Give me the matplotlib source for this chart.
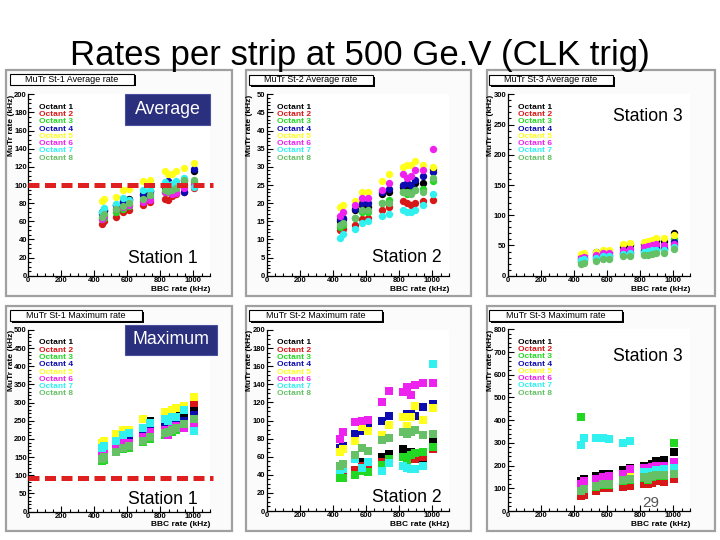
import matplotlib
matplotlib.use('Agg')
import matplotlib.pyplot as plt
from matplotlib.patches import Rectangle
from matplotlib.ticker import MultipleLocator

W, H = 720, 540

# ---------------- data ----------------
bbc_rate = [445, 458, 530, 575, 610, 695, 735, 825, 845, 870, 895, 945, 1005]
octant_labels = ['Octant 1', 'Octant 2', 'Octant 3', 'Octant 4',
                 'Octant 5', 'Octant 6', 'Octant 7', 'Octant 8']
octant_colors = ['#000000', '#d81818', '#22d822', '#0c0cb0',
                 '#ffff1a', '#ee22ee', '#30f0f0', '#66c066']

st1_avg = [
    [70, 72, 78, 82, 85, 90, 93, 98, 98, 97, 100, 105, 115],
    [57, 60, 65, 70, 72, 78, 81, 85, 83, 88, 90, 92, 97],
    [62, 64, 70, 74, 77, 82, 86, 92, 92, 93, 96, 100, 103],
    [68, 71, 78, 81, 84, 89, 93, 100, 104, 100, 98, 92, 118],
    [82, 85, 87, 94, 96, 104, 106, 115, 112, 112, 115, 119, 124],
    [63, 66, 73, 76, 78, 81, 84, 92, 93, 90, 91, 97, 100],
    [70, 75, 79, 86, 84, 94, 95, 103, 100, 101, 104, 108, 98],
    [65, 68, 73, 77, 80, 85, 89, 95, 93, 94, 97, 105, 106],
]
st2_avg = [
    [15, 15.5, 18, 19.5, 19, 22.5, 23, 24.5, 24, 24, 25.5, 25.5, 29.5],
    [12.5, 13, 14, 15.5, 16, 18, 19, 20.5, 20, 19.5, 20, 20.5, 21],
    [13.5, 14, 16, 17.5, 17.5, 20, 21, 23, 22.5, 23, 23.5, 24, 26],
    [15.5, 16, 18.5, 20, 20, 23, 24, 25, 25.5, 25, 26.5, 27.5, 28.5],
    [19, 19.5, 20.5, 23, 23, 26, 28, 30, 30.5, 30.5, 31.5, 30.5, 30],
    [16.5, 17.5, 19.5, 21.5, 21.5, 23.5, 25.5, 28, 27, 27.5, 29, 29, 35],
    [10.5, 11.5, 12.8, 14.5, 15, 16.5, 17, 18, 17.5, 17.5, 18, 19.5, 22.5],
    [14, 14.5, 16, 18, 18, 20, 20, 23, 23, 22.5, 23.5, 23, 27],
]
st3_avg = [
    [33, 34, 40, 40, 40, 48, 50, 52, 54, 55, 58, 58, 70],
    [25, 26, 30, 32, 32, 37, 38, 41, 42, 42, 44, 44, 50],
    [23, 24, 28, 29, 30, 34, 35, 38, 38, 39, 40, 42, 60],
    [28, 29, 32, 34, 34, 38, 40, 43, 44, 45, 47, 46, 55],
    [36, 37, 39, 42, 42, 52, 54, 55, 57, 59, 62, 62, 67],
    [30, 31, 35, 37, 37, 43, 44, 47, 49, 50, 52, 50, 52],
    [26, 27, 30, 32, 32, 36, 37, 40, 41, 42, 43, 43, 48],
    [20, 21, 25, 27, 28, 32, 32, 35, 35, 36, 37, 38, 44],
]
st1_max = [
    [165, 170, 205, 200, 205, 215, 250, 250, 255, 265, 265, 270, 280],
    [150, 155, 180, 185, 190, 205, 210, 230, 275, 235, 240, 245, 300],
    [138, 142, 165, 172, 175, 192, 200, 212, 215, 220, 225, 232, 250],
    [170, 172, 190, 205, 200, 210, 235, 235, 235, 240, 245, 250, 265],
    [190, 195, 213, 225, 225, 255, 245, 275, 270, 280, 285, 290, 315],
    [160, 162, 175, 190, 190, 205, 220, 225, 210, 230, 235, 230, 245],
    [175, 180, 195, 210, 215, 230, 245, 255, 250, 260, 260, 280, 222],
    [145, 150, 165, 175, 180, 195, 205, 215, 220, 225, 230, 240, 255],
]
st2_max = [
    [42, 43, 45, 54, 45, 60, 63, 68, 64, 65, 63, 58, 79],
    [40, 41, 45, 50, 48, 54, 56, 60, 57, 57, 58, 60, 68],
    [36, 37, 40, 44, 43, 51, 58, 60, 56, 62, 64, 65, 71],
    [70, 72, 85, 88, 95, 99, 105, 104, 107, 107, 105, 115, 118],
    [65, 68, 77, 93, 88, 84, 95, 104, 94, 104, 116, 101, 114],
    [80, 87, 98, 100, 101, 120, 133, 132, 137, 128, 139, 141, 141],
    [45, 46, 58, 47, 54, 44, 53, 50, 47, 46, 46, 50, 162],
    [50, 52, 62, 70, 66, 78, 81, 87, 85, 87, 89, 84, 85],
]
st3_max = [
    [130, 140, 155, 165, 165, 180, 190, 200, 185, 205, 220, 225, 260],
    [65, 70, 90, 100, 100, 105, 110, 120, 118, 125, 130, 128, 140],
    [415, 95, 105, 115, 115, 130, 135, 145, 135, 150, 155, 155, 300],
    [110, 120, 135, 145, 148, 160, 155, 175, 160, 180, 190, 195, 200],
    [115, 125, 140, 150, 140, 165, 170, 180, 165, 185, 170, 180, 205],
    [120, 130, 140, 150, 155, 165, 185, 190, 170, 195, 200, 200, 215],
    [290, 320, 322, 322, 315, 300, 310, 170, 160, 170, 180, 185, 190],
    [90, 95, 110, 120, 120, 135, 140, 150, 140, 155, 160, 160, 165],
]

panel_data = [st1_avg, st2_avg, st3_avg, st1_max, st2_max, st3_max]
panel_titles = ['MuTr St-1 Average rate', 'MuTr St-2 Average rate',
                'MuTr St-3 Average rate', 'MuTr St-1 Maximum rate',
                'MuTr St-2 Maximum rate', 'MuTr St-3 Maximum rate']
station_labels = ['Station 1', 'Station 2', 'Station 3',
                  'Station 1', 'Station 2', 'Station 3']
y_max = [200, 50, 300, 500, 200, 800]
y_major = [20, 5, 50, 50, 20, 100]
y_minor = [5, 1, 10, 10, 5, 20]
limit_levels = [100, None, None, 93, None, None]
x_max = 1100

# ---------------- layout (pixels) ----------------
frames = [(6, 70, 232, 296), (246, 70, 471, 296), (487, 70, 715, 296),
          (6, 306, 232, 531), (246, 306, 471, 531), (487, 306, 715, 531)]
axes_px = [(28.3, 94.3, 210, 275.7), (266.7, 94.3, 449, 275.7),
           (507.7, 94.3, 690, 275.7), (28.3, 330, 210, 511.5),
           (266.7, 330, 449, 511), (507.7, 329.3, 690, 511)]
title_boxes = [(10, 74, 134, 84.5), (249, 75, 373, 85), (489, 75, 613, 85),
               (10, 310, 142, 321), (249, 310, 382, 321), (489, 310, 622, 321)]
station_pos = [(163, 258), (406.7, 257.7), (648, 116.7),
               (163.3, 499), (406.7, 498), (648, 356.7)]
markers = ['o', 'o', 'o', 's', 's', 's']
marker_sizes = [5.3, 5.3, 5.3, 5.6, 5.6, 5.6]


def fx(px):
    return px / W


def fy(py):
    return 1 - py / H


fig = plt.figure(figsize=(7.2, 5.4), dpi=100)
fig.patch.set_facecolor('white')

fig.text(fx(360), fy(65), 'Rates per strip at 500 Ge.V (CLK trig)',
         ha='center', va='baseline', fontsize=25, family='Liberation Sans',
         color='black', zorder=-1)

# panel frames (behind the axes)
for (x0, y0, x1, y1) in frames:
    fig.patches.append(Rectangle((fx(x0), fy(y1)), fx(x1 - x0), (y1 - y0) / H,
                                 transform=fig.transFigure, facecolor='#fbfbfb',
                                 edgecolor='#a0a0a0', linewidth=1.6, zorder=-5))

for i in range(6):
    l, t, r, b = axes_px[i]
    ax = fig.add_axes([fx(l), fy(b), fx(r - l), (b - t) / H])
    ax.set_zorder(1)
    ax.set_facecolor('white')
    ax.set_xlim(0, x_max)
    ax.set_ylim(0, y_max[i])
    for sp in ['top', 'right']:
        ax.spines[sp].set_visible(False)
    for sp in ['left', 'bottom']:
        ax.spines[sp].set_linewidth(0.9)
    ax.xaxis.set_major_locator(MultipleLocator(200))
    ax.xaxis.set_minor_locator(MultipleLocator(50))
    ax.yaxis.set_major_locator(MultipleLocator(y_major[i]))
    ax.yaxis.set_minor_locator(MultipleLocator(y_minor[i]))
    ax.tick_params(which='both', direction='in', labelsize=5.5, pad=1.0,
                   width=0.8, labelfontfamily='Liberation Sans')
    ax.tick_params(which='major', length=4)
    ax.tick_params(which='minor', length=2)
    for lab in ax.get_xticklabels() + ax.get_yticklabels():
        lab.set_fontweight('bold')

    data = panel_data[i]
    for k in range(8):
        ax.plot(bbc_rate, data[k], linestyle='none', marker=markers[i],
                markersize=marker_sizes[i], color=octant_colors[k],
                markeredgewidth=0, clip_on=False, zorder=3 + k)

    if limit_levels[i] is not None:
        ax.plot([0, 1120], [limit_levels[i]] * 2, color='#e02020',
                linewidth=3.6, dashes=(2.2, 1.1), clip_on=False, zorder=20)

    # legend
    wpx = r - l
    hpx = b - t
    for k in range(8):
        ax.text(10.5 / wpx, 1 - (13 + 7.25 * k) / hpx, octant_labels[k],
                transform=ax.transAxes, ha='left', va='center', fontsize=6,
                fontweight='bold', family='Liberation Sans',
                color=octant_colors[k], zorder=30)

    ax.text(-17 / wpx, 1.0, 'MuTr rate (kHz)', transform=ax.transAxes,
            rotation=90, ha='center', va='top', fontsize=6, fontweight='bold',
            family='Liberation Sans')
    ax.text(1.0, -13.5 / hpx, 'BBC rate (kHz)', transform=ax.transAxes,
            ha='right', va='center', fontsize=6, fontweight='bold',
            family='Liberation Sans')

    # title box with shadow
    x0, y0, x1, y1 = title_boxes[i]
    fig.patches.append(Rectangle((fx(x0 + 1.5), fy(y1 + 1.5)), fx(x1 - x0),
                                 (y1 - y0) / H, transform=fig.transFigure,
                                 facecolor='black', edgecolor='none', zorder=5))
    fig.patches.append(Rectangle((fx(x0), fy(y1)), fx(x1 - x0), (y1 - y0) / H,
                                 transform=fig.transFigure, facecolor='white',
                                 edgecolor='black', linewidth=0.8, zorder=6))
    fig.text(fx((x0 + x1) / 2), fy((y0 + y1) / 2), panel_titles[i],
             ha='center', va='center', fontsize=6.5, family='Liberation Sans',
             zorder=7)

    sx, sy = station_pos[i]
    fig.text(fx(sx), fy(sy), station_labels[i], ha='center', va='center',
             fontsize=12.7, family='Liberation Sans', zorder=40)

# blue labels
for (x0, y0, x1, y1, txt) in [(125, 94.3, 210, 125, 'Average'),
                              (125, 325, 217, 355, 'Maximum')]:
    fig.patches.append(Rectangle((fx(x0), fy(y1)), fx(x1 - x0), (y1 - y0) / H,
                                 transform=fig.transFigure, facecolor='#2a2f7e',
                                 edgecolor='#4a50a0', linewidth=0.8, zorder=50))
    fig.text(fx((x0 + x1) / 2), fy((y0 + y1) / 2), txt, ha='center',
             va='center', fontsize=12.8, color='white',
             family='Liberation Sans', zorder=51)

fig.text(fx(651), fy(503), '29', ha='center', va='center', fontsize=11,
         color='#555555', family='Liberation Sans', zorder=60)

fig.savefig('out.png', dpi=100)
